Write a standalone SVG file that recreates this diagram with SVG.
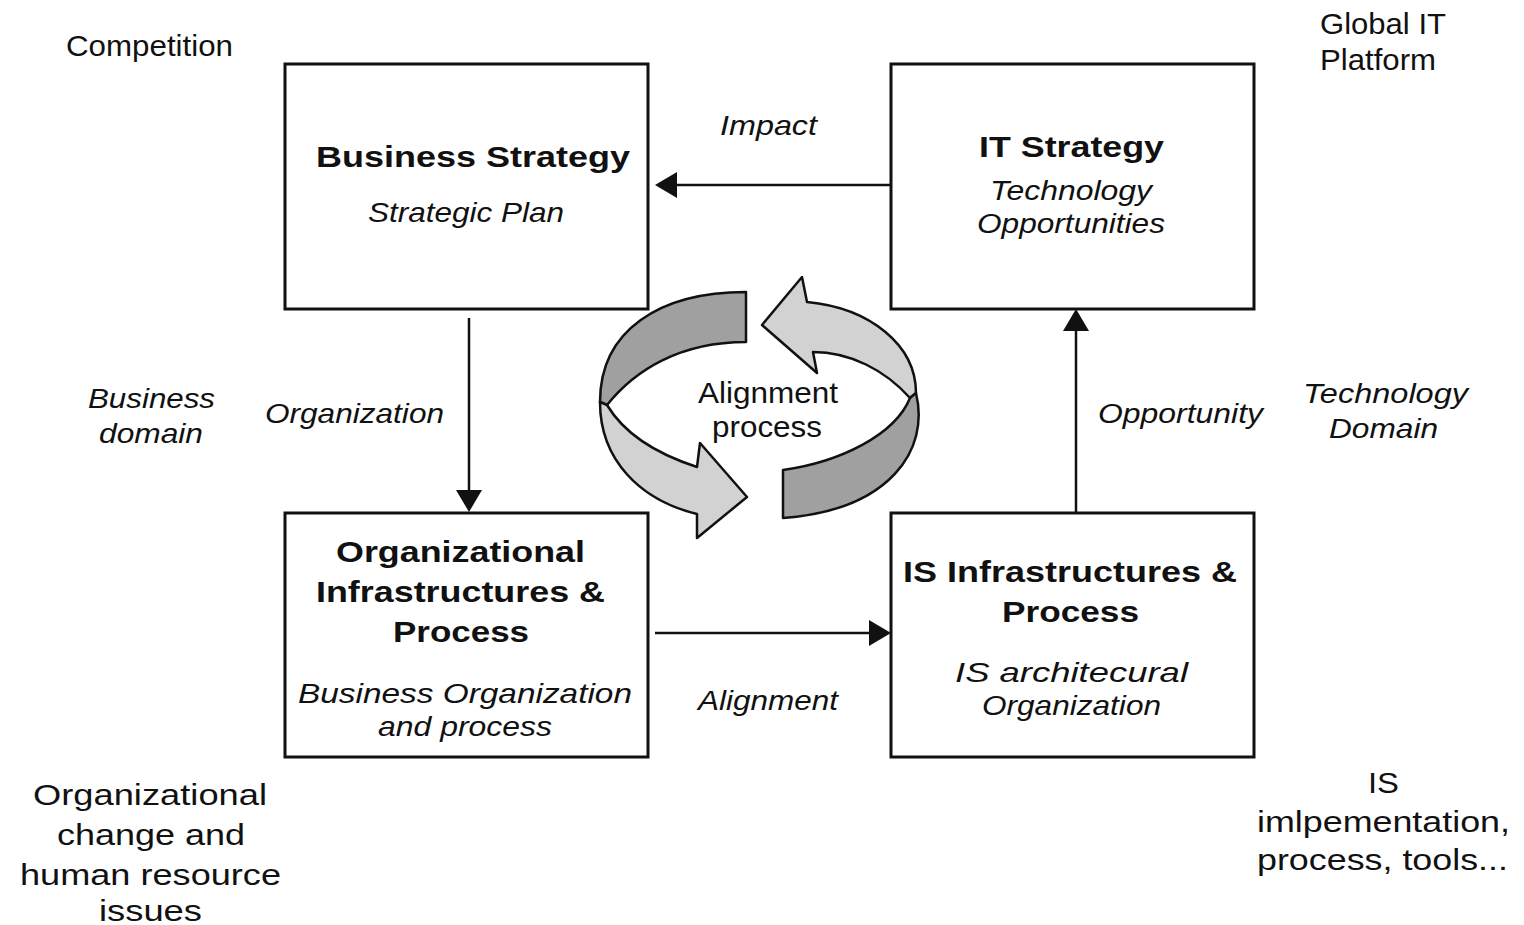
<svg xmlns="http://www.w3.org/2000/svg" width="1524" height="925" viewBox="0 0 1524 925">
<style>
.box{fill:#fff;stroke:#111;stroke-width:3}
.t{font-family:"Liberation Sans",Arial,sans-serif;fill:#111}
.r{font-size:29px}
.b{font-size:30px;font-weight:bold}
.i{font-size:28px;font-style:italic}
.con{stroke:#111;stroke-width:2.5;fill:none}
.dk{fill:#a0a0a0;stroke:#111;stroke-width:2.5;stroke-linejoin:round}
.lt{fill:#d2d2d2;stroke:#111;stroke-width:2.5;stroke-linejoin:round}
</style>
<defs>
<marker id="ah" markerUnits="userSpaceOnUse" markerWidth="22" markerHeight="26" viewBox="0 0 22 26" refX="14" refY="13" orient="auto">
<path d="M0,0 L22,13 L0,26 Z" fill="#111"/>
</marker>
</defs>
<rect width="1524" height="925" fill="#fff"/>

<g id="labels">
<text class="t r" x="66" y="56" textLength="167" lengthAdjust="spacingAndGlyphs">Competition</text>
<text class="t r" x="1320" y="34" textLength="126" lengthAdjust="spacingAndGlyphs">Global IT</text>
<text class="t r" x="1320" y="70" textLength="116" lengthAdjust="spacingAndGlyphs">Platform</text>
<text class="t i" x="88" y="408" textLength="127" lengthAdjust="spacingAndGlyphs">Business</text>
<text class="t i" x="99" y="443" textLength="104" lengthAdjust="spacingAndGlyphs">domain</text>
<text class="t i" x="1303" y="403" textLength="165" lengthAdjust="spacingAndGlyphs">Technology</text>
<text class="t i" x="1329" y="438" textLength="109" lengthAdjust="spacingAndGlyphs">Domain</text>
<text class="t r" x="33" y="805" textLength="234" lengthAdjust="spacingAndGlyphs">Organizational</text>
<text class="t r" x="57" y="845" textLength="188" lengthAdjust="spacingAndGlyphs">change and</text>
<text class="t r" x="20" y="885" textLength="261" lengthAdjust="spacingAndGlyphs">human resource</text>
<text class="t r" x="99" y="921" textLength="103" lengthAdjust="spacingAndGlyphs">issues</text>
<text class="t r" x="1368" y="793" textLength="31" lengthAdjust="spacingAndGlyphs">IS</text>
<text class="t r" x="1257" y="832" textLength="253" lengthAdjust="spacingAndGlyphs">imlpementation,</text>
<text class="t r" x="1257" y="870" textLength="251" lengthAdjust="spacingAndGlyphs">process, tools...</text>
</g>

<g id="business-strategy">
<rect class="box" x="285" y="64" width="363" height="245"/>
<text class="t b" x="316" y="167" textLength="314" lengthAdjust="spacingAndGlyphs">Business Strategy</text>
<text class="t i" x="368" y="222" textLength="196" lengthAdjust="spacingAndGlyphs">Strategic Plan</text>
</g>

<g id="it-strategy">
<rect class="box" x="891" y="64" width="363" height="245"/>
<text class="t b" x="979" y="157" textLength="185" lengthAdjust="spacingAndGlyphs">IT Strategy</text>
<text class="t i" x="990" y="200" textLength="162" lengthAdjust="spacingAndGlyphs">Technology</text>
<text class="t i" x="977" y="233" textLength="188" lengthAdjust="spacingAndGlyphs">Opportunities</text>
</g>

<g id="org-infrastructures">
<rect class="box" x="285" y="513" width="363" height="244"/>
<text class="t b" x="336" y="562" textLength="249" lengthAdjust="spacingAndGlyphs">Organizational</text>
<text class="t b" x="316" y="602" textLength="289" lengthAdjust="spacingAndGlyphs">Infrastructures &amp;</text>
<text class="t b" x="393" y="642" textLength="136" lengthAdjust="spacingAndGlyphs">Process</text>
<text class="t i" x="298" y="703" textLength="334" lengthAdjust="spacingAndGlyphs">Business Organization</text>
<text class="t i" x="378" y="736" textLength="174" lengthAdjust="spacingAndGlyphs">and process</text>
</g>

<g id="is-infrastructures">
<rect class="box" x="891" y="513" width="363" height="244"/>
<text class="t b" x="903" y="582" textLength="334" lengthAdjust="spacingAndGlyphs">IS Infrastructures &amp;</text>
<text class="t b" x="1002" y="622" textLength="137" lengthAdjust="spacingAndGlyphs">Process</text>
<text class="t i" x="955" y="682" textLength="233" lengthAdjust="spacingAndGlyphs">IS architecural</text>
<text class="t i" x="982" y="715" textLength="179" lengthAdjust="spacingAndGlyphs">Organization</text>
</g>

<g id="alignment-cycle">
<path class="dk" d="M746,292 C660,292 600,330 600,402 L607,405 C635,370 680,342 746,342 Z"/>
<path class="lt" d="M600,402 C600,460 640,500 697,514 L697,538 L747,497 L700,443 L697,467 C660,455 625,435 607,405 Z"/>
<path class="lt" d="M807,302 C870,308 916,345 916,393 L910,398 C885,370 850,352 813,352 L817,373 L762,325 L802,277 Z"/>
<path class="dk" d="M916,393 C930,450 890,510 783,518 L783,470 C840,462 895,435 910,398 Z"/>
<text class="t r" x="698" y="403" textLength="140" lengthAdjust="spacingAndGlyphs">Alignment</text>
<text class="t r" x="712" y="437" textLength="110" lengthAdjust="spacingAndGlyphs">process</text>
</g>

<g id="connectors">
<line class="con" x1="891" y1="185" x2="663" y2="185" marker-end="url(#ah)"/>
<line class="con" x1="469" y1="318" x2="469" y2="504" marker-end="url(#ah)"/>
<line class="con" x1="655" y1="633" x2="883" y2="633" marker-end="url(#ah)"/>
<line class="con" x1="1076" y1="512" x2="1076" y2="317" marker-end="url(#ah)"/>
<text class="t i" x="720" y="135" textLength="97" lengthAdjust="spacingAndGlyphs">Impact</text>
<text class="t i" x="265" y="423" textLength="179" lengthAdjust="spacingAndGlyphs">Organization</text>
<text class="t i" x="698" y="710" textLength="140" lengthAdjust="spacingAndGlyphs">Alignment</text>
<text class="t i" x="1098" y="423" textLength="165" lengthAdjust="spacingAndGlyphs">Opportunity</text>
</g>
</svg>
